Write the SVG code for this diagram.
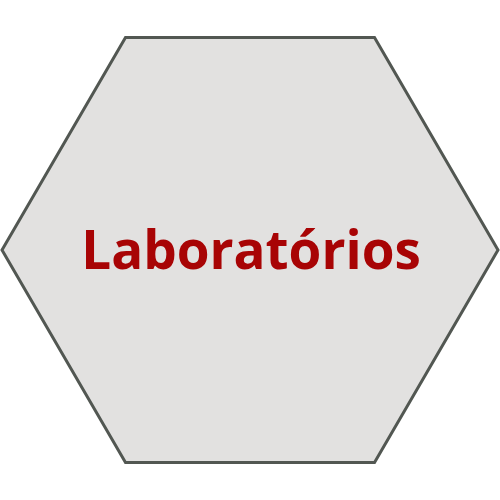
<svg xmlns="http://www.w3.org/2000/svg" width="500" height="500" viewBox="0 0 500 500">
<style>
.hex{fill:#e2e1e0;stroke:#525752;stroke-width:3}
.lbl{font-family:"Open Sans","DejaVu Sans",sans-serif;font-weight:bold;font-size:53px;fill:#a80405;text-anchor:middle}
</style>
<g id="node-laboratorios">
<polygon class="hex" points="125.5,37.5 374.5,37.5 498,250 374.5,462.5 125.5,462.5 2,250"/>
<text class="lbl" x="251" y="269">Laboratórios</text>
</g>
</svg>
